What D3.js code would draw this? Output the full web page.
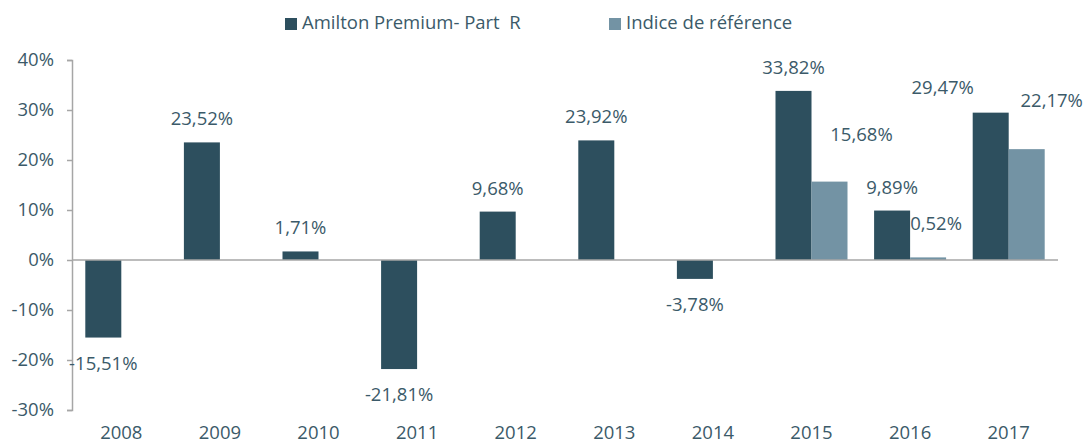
<!DOCTYPE html>
<head>
    <meta charset="UTF-8">
    <script src="https://d3js.org/d3.v7.min.js"></script>
    <style>
        body { margin: 0; background: white; }
        text { font-family: "Open Sans", sans-serif; fill: #3b5a69; }
    </style>
</head>
<body>
    <div id="viz"></div>
    <script>
        // chart data
        const years = ["2008", "2009", "2010", "2011", "2012", "2013", "2014", "2015", "2016", "2017"];
        const fundValues = [-15.51, 23.52, 1.71, -21.81, 9.68, 23.92, -3.78, 33.82, 9.89, 29.47];
        const indexValues = [null, null, null, null, null, null, null, 15.68, 0.52, 22.17];
        const seriesNames = ["Amilton Premium- Part  R", "Indice de référence"];
        const yTicks = [-30, -20, -10, 0, 10, 20, 30, 40];

        const colors = ["#2d4f5e", "#7393a4"];
        const fontSize = "18.5px";

        const width = 1086, height = 444;
        const margin = { top: 60, right: 28, bottom: 34, left: 72 };

        const svg = d3.select("#viz").append("svg")
            .attr("width", width)
            .attr("height", height);

        const x = d3.scaleBand()
            .domain(years)
            .range([margin.left, width - margin.right]);

        const y = d3.scaleLinear()
            .domain([-30, 40])
            .range([height - margin.bottom, margin.top]);

        const barW = 36;
        // french style: comma decimal, plain hyphen for minus
        const fmt = v => d3.format(".2f")(v).replace(".", ",").replace("\u2212", "-") + "%";

        // y axis
        const yAxis = svg.append("g")
            .attr("transform", `translate(${margin.left},0)`)
            .call(d3.axisLeft(y).tickValues(yTicks).tickSize(5).tickPadding(13).tickFormat(d => d + "%"));
        yAxis.select(".domain").attr("stroke", "#a6a6a6").attr("stroke-width", 1.5);
        yAxis.selectAll(".tick line").attr("stroke", "#a6a6a6").attr("stroke-width", 1.5);
        yAxis.selectAll(".tick text")
            .style("font-family", "'Open Sans', sans-serif")
            .style("font-size", fontSize)
            .attr("fill", "#3b5a69");

        // x labels
        svg.append("g").selectAll("text")
            .data(years)
            .join("text")
            .attr("x", d => x(d) + x.bandwidth() / 2)
            .attr("y", 439)
            .attr("text-anchor", "middle")
            .style("font-size", fontSize)
            .text(d => d);

        // bars
        const rows = years.map((yr, i) => ({ year: yr, fund: fundValues[i], index: indexValues[i] }));

        svg.append("g").selectAll("rect")
            .data(rows)
            .join("rect")
            .attr("x", d => x(d.year) + x.bandwidth() / 2 - barW)
            .attr("width", barW)
            .attr("y", d => y(Math.max(0, d.fund)))
            .attr("height", d => Math.abs(y(d.fund) - y(0)))
            .attr("fill", colors[0]);

        svg.append("g").selectAll("rect")
            .data(rows.filter(d => d.index != null))
            .join("rect")
            .attr("x", d => x(d.year) + x.bandwidth() / 2)
            .attr("width", barW)
            .attr("y", d => y(Math.max(0, d.index)))
            .attr("height", d => Math.abs(y(d.index) - y(0)))
            .attr("fill", colors[1]);

        // zero line
        svg.append("line")
            .attr("x1", margin.left)
            .attr("x2", width - margin.right)
            .attr("y1", y(0))
            .attr("y2", y(0))
            .attr("stroke", "#a6a6a6")
            .attr("stroke-width", 1.5);

        // labels (a few were moved by hand in the original)
        const nudge = { "fund2017": [-48, -2], "index2015": [32, -24], "index2016": [8, -10], "index2017": [25, -25] };

        function addLabels(key, offset) {
            svg.append("g").selectAll("text")
                .data(rows.filter(d => d[key] != null))
                .join("text")
                .attr("x", d => {
                    const n = nudge[key + d.year] || [0, 0];
                    return x(d.year) + x.bandwidth() / 2 + offset + n[0];
                })
                .attr("y", d => {
                    const n = nudge[key + d.year] || [0, 0];
                    const v = d[key];
                    return (v >= 0 ? y(v) - 17 : y(v) + 32) + n[1];
                })
                .attr("text-anchor", "middle")
                .style("font-size", fontSize)
                .text(d => fmt(d[key]));
        }
        addLabels("fund", -barW / 2);
        addLabels("index", barW / 2);

        // legend
        const legendX = [285, 609];
        const legend = svg.append("g").selectAll("g")
            .data(seriesNames)
            .join("g")
            .attr("transform", (d, i) => `translate(${legendX[i]},18)`);
        legend.append("rect")
            .attr("width", 12).attr("height", 12)
            .attr("fill", (d, i) => colors[i]);
        legend.append("text")
            .attr("x", 17).attr("y", 11)
            .style("font-size", fontSize)
            .attr("xml:space", "preserve")
            .text(d => d);
    </script>
</body>
</html>
